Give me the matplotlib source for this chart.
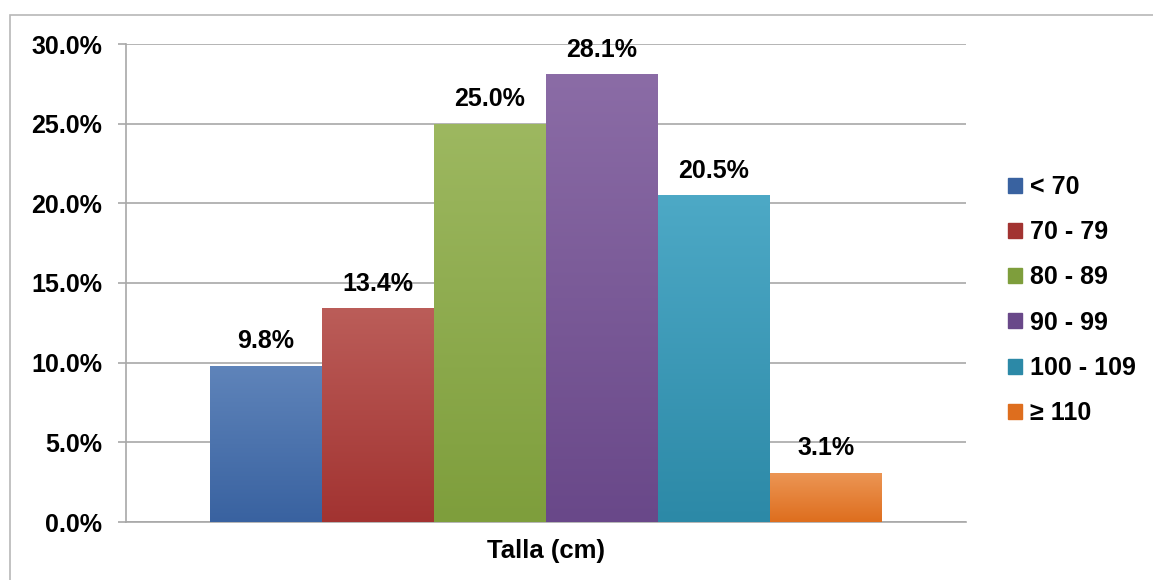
import matplotlib
matplotlib.use("Agg")
import matplotlib.pyplot as plt
import numpy as np
from matplotlib.patches import Rectangle
from matplotlib.colors import LinearSegmentedColormap

plt.rcParams['font.family'] = ['Liberation Sans', 'DejaVu Sans']
plt.rcParams['font.weight'] = 'bold'

categories = ["< 70", "70 - 79", "80 - 89", "90 - 99", "100 - 109", "≥ 110"]
values = [9.8, 13.4, 25.0, 28.1, 20.5, 3.1]
colors_top = ["#5f84ba", "#bb5d59", "#9db860", "#8b6ca6", "#4da9c6", "#ec9655"]
colors_bottom = ["#3962a0", "#a23331", "#7e9e3c", "#694889", "#2c89a7", "#de6e1e"]
yticks = [0, 5, 10, 15, 20, 25, 30]

fig = plt.figure(figsize=(11.53, 5.80), dpi=100)
ax = fig.add_axes([126 / 1153, 1 - 522 / 580, 840 / 1153, 478 / 580])

# outer chart frame
fig.patches.append(Rectangle((10 / 1153, -0.05), 1.1, 1 - 15 / 580 + 0.05,
                             transform=fig.transFigure, fill=False,
                             edgecolor="#b8b8b8", linewidth=1.2))

x = np.arange(len(values))
bars = ax.bar(x, values, width=1.0, color=colors_bottom, zorder=2)

# vertical gradient on each bar
grad = np.linspace(0, 1, 256).reshape(-1, 1)
for b, ct, cb in zip(bars, colors_top, colors_bottom):
    cmap = LinearSegmentedColormap.from_list("g", [cb, ct])
    x0, y0 = b.get_x(), b.get_y()
    im = ax.imshow(grad, cmap=cmap, aspect="auto", origin="lower",
                   extent=(x0, x0 + b.get_width(), y0, y0 + b.get_height()),
                   zorder=3)
    im.set_clip_path(b)

for xi, v in zip(x, values):
    ax.annotate(f"{v:.1f}%", (xi, v), xytext=(0, 9), textcoords="offset points",
                ha="center", va="bottom", fontsize=18, fontweight="bold")

ax.set_xlim(-1.25, 6.25)
ax.set_ylim(0, 30)
ax.set_yticks(yticks)
ax.set_yticklabels([f"{t:.1f}%" for t in yticks], fontsize=18, fontweight="bold")
ax.set_xticks([])
ax.set_xlabel("Talla (cm)", fontsize=18.5, fontweight="bold", labelpad=12)
ax.grid(axis="y", color="#a8a8a8", linewidth=1.2, zorder=0)
ax.set_axisbelow(True)
for s in ["top", "right"]:
    ax.spines[s].set_visible(False)
ax.spines["left"].set_color("#a8a8a8")
ax.spines["bottom"].set_color("#a8a8a8")
ax.spines["left"].set_linewidth(1.2)
ax.spines["bottom"].set_linewidth(1.2)
ax.tick_params(axis="y", length=6, color="#a8a8a8", width=1.2, pad=11)

handles = [Rectangle((0, 0), 1, 1, color=c) for c in colors_bottom]
leg = fig.legend(handles, categories, loc="center left",
                 bbox_to_anchor=(1008 / 1153, 1 - 300 / 580), frameon=False,
                 prop={"size": 18, "weight": "bold"}, handlelength=0.55,
                 handleheight=0.55, handletextpad=0.35, labelspacing=0.85,
                 borderpad=0, borderaxespad=0)

fig.savefig("out.png", dpi=100, facecolor="white")
